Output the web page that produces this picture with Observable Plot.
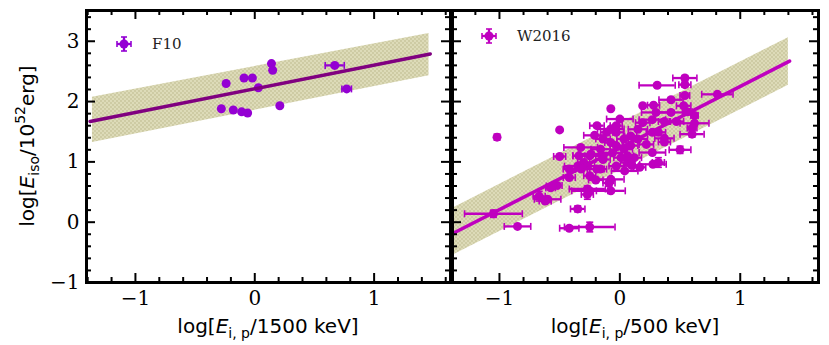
<!DOCTYPE html>
<html><head><meta charset="utf-8">
<script src="https://cdn.jsdelivr.net/npm/d3@7"></script>
<script src="https://cdn.jsdelivr.net/npm/@observablehq/plot@0.6"></script>
<style>
body{margin:0;background:#fff}
#wrap{position:relative;width:829px;height:345px;background:#fff}
#wrap svg{position:absolute;top:0}
</style>
</head><body><div id="wrap"></div>
<script>
// ---- Left panel (F10) ----
const f10X    = [-0.24,-0.28,-0.18,-0.11,-0.06,-0.09,-0.02,0.03,0.14,0.15,0.21,0.67,0.77];
const f10Y    = [2.30,1.88,1.86,1.83,1.81,2.39,2.39,2.23,2.63,2.52,1.93,2.60,2.21];
const f10Xerr = [0,0,0,0,0,0,0,0,0,0,0,0.08,0.04];
const f10Yerr = [0,0,0,0,0,0,0,0,0,0,0,0.02,0.02];
const f10FitX = [-1.38, 1.47];
const f10FitY = [1.67, 2.79];
const f10BandX  = [-1.36, 1.46];
const f10BandLo = [1.32, 2.43];
const f10BandHi = [2.07, 3.13];

// ---- Right panel (W2016) ----
const wX = [-1.02,-0.50,-1.05,-0.85,-0.42,-0.25,-0.35,-0.67,-0.60,-0.575,-0.52,-0.42,-0.50,-0.325,-0.27,-0.25,-0.27,-0.075,-0.19,-0.21,
  0.0,0.19,0.28,0.31,0.54,0.54,0.54,0.425,0.81,0.53,0.56,0.425,0.30,0.62,0.62,0.60,0.60,0.47,0.37,0.27,
  0.19,0.37,0.37,0.50,0.27,0.22,0.275,0.32,0.165,0.04,0.065,-0.075,-0.09,-0.075,-0.25,-0.19,-0.30,-0.35,-0.25,-0.14,
  -0.06,-0.03,0.035,0.09,0.15,0.09,0.035,-0.03,-0.075,-0.03,-0.11,-0.14,-0.075,-0.16,0.01,0.12,0.065,-0.16,-0.27,-0.32,
  -0.42,0.15,0.27,0.32,-0.03,0.10,-0.20,-0.24,-0.34,-0.56,-0.62];
const wY = [1.41,1.53,0.14,-0.07,-0.10,-0.08,0.22,0.43,0.38,0.57,0.61,0.74,1.09,1.24,0.55,0.52,0.46,1.88,1.60,1.44,
  1.71,1.93,1.94,2.27,2.39,2.28,2.10,2.03,2.12,1.93,1.83,1.82,1.82,1.77,1.64,1.56,1.46,1.67,1.67,1.70,
  1.65,1.39,1.33,1.20,1.155,1.29,0.96,0.99,0.91,0.85,0.99,0.71,0.65,0.52,0.77,0.88,0.99,0.93,1.10,1.04,
  1.15,1.27,1.21,1.27,1.38,1.43,1.38,1.49,1.545,1.60,1.49,1.38,1.32,1.21,1.07,1.07,1.10,0.88,0.93,0.88,
  0.88,1.54,1.49,1.49,0.93,0.94,0.70,1.13,1.10,0.60,0.35];
const wXerr = [0,0,0.24,0.11,0.08,0.21,0.06,0.05,0.11,0.04,0.04,0.05,0.05,0.14,0.15,0.15,0.05,0,0.06,0.09,
  0.11,0,0.05,0.15,0.10,0.05,0.04,0.10,0.13,0.06,0.04,0.11,0.12,0.03,0.12,0.04,0.10,0.06,0.05,0.11,
  0.06,0.08,0.05,0.09,0.11,0.06,0.11,0.05,0.05,0.11,0.06,0.11,0.05,0.12,0.05,0.06,0.05,0.11,0.14,0.06,
  0.08,0.05,0.07,0.06,0.08,0.05,0.06,0.06,0.11,0.05,0.05,0.06,0.05,0.08,0.06,0.06,0.05,0.05,0.06,0.05,
  0.05,0.08,0.05,0.06,0.06,0.06,0.06,0.10,0.05,0.05,0.05];
const wYerr = [0.05,0,0.06,0.03,0.03,0.08,0.05,0.08,0.03,0.03,0.03,0.03,0.03,0.03,0.05,0.03,0.08,0,0.03,0.03,
  0.03,0,0.03,0.03,0.04,0.04,0.03,0.03,0.03,0.03,0.05,0.03,0.03,0.03,0.03,0.03,0.05,0.03,0.03,0.03,
  0.03,0.03,0.03,0.06,0.03,0.03,0.03,0.08,0.03,0.03,0.03,0.03,0.05,0.03,0.03,0.03,0.03,0.03,0.03,0.03,
  0.03,0.03,0.03,0.03,0.03,0.03,0.03,0.03,0.03,0.03,0.03,0.03,0.03,0.03,0.03,0.03,0.03,0.03,0.03,0.03,
  0.03,0.03,0.03,0.03,0.03,0.03,0.03,0.03,0.03,0.03,0.03];
const wFitX = [-1.38, 1.41];
const wFitY = [-0.18, 2.67];
const wBandX  = [-1.38, 1.40];
const wBandLo = [-0.54, 2.27];
const wBandHi = [0.24, 3.06];

// ---- Axes ----
const xMajor = [-1, 0, 1];
const xMinor = [-1.4,-1.2,-0.8,-0.6,-0.4,-0.2,0.2,0.4,0.6,0.8,1.2,1.4,1.6];
const yMajor = [-1, 0, 1, 2, 3];
const yMinor = [-0.8,-0.6,-0.4,-0.2,0.2,0.4,0.6,0.8,1.2,1.4,1.6,1.8,2.2,2.4,2.6,2.8,3.2,3.4];

const leftXDomain = [-1.41, 1.64];
const rightXDomain = [-1.39, 1.65];
const yDomain = [-1, 3.51];

const fmt = d => (d < 0 ? "\u2212" + Math.abs(d) : String(d));

const sym = (f) => ({draw(ctx, size){ const l = Math.sqrt(size/Math.PI); f(ctx, l); }});
const capV = sym((c,l)=>{c.moveTo(0,-l);c.lineTo(0,l);});
const capH = sym((c,l)=>{c.moveTo(-l,0);c.lineTo(l,0);});

const H = 345, MT = 10, MB = 63;
const FH = H - MT - MB;
const ns = "http://www.w3.org/2000/svg";

function tickMarks(xdom, fw){
  const inX = v => v > xdom[0] && v < xdom[1];
  const base = {stroke:"black", strokeWidth:2};
  const m = [];
  for (const [vals, len] of [[xMajor.filter(inX), 9], [xMinor.filter(inX), 5]]) {
    m.push(Plot.tickX(vals, {...base, x:d=>d, insetTop: FH - len}));
    m.push(Plot.tickX(vals, {...base, x:d=>d, insetBottom: FH - len}));
  }
  for (const [vals, len] of [[yMajor, 9], [yMinor, 5]]) {
    m.push(Plot.tickY(vals, {...base, y:d=>d, insetRight: fw - len}));
    m.push(Plot.tickY(vals, {...base, y:d=>d, insetLeft: fw - len}));
  }
  return m;
}

function panel({X, Y, Xerr, Yerr, fitX, fitY, bandX, bandLo, bandHi, pointColor, lineColor, xdom, width, mL, mR, showY, pid}){
  const pts = X.map((x,i)=>({x, y:Y[i], xe:Xerr[i], ye:Yerr[i]}));
  const band = bandX.map((x,i)=>({x, lo:bandLo[i], hi:bandHi[i]}));
  const fit = fitX.map((x,i)=>({x, y:fitY[i]}));
  const ex = pts.filter(d=>d.xe>0), ey = pts.filter(d=>d.ye>0);
  const fw = width - mL - mR;
  const plot = Plot.plot({
    width, height: H, marginLeft: mL, marginRight: mR, marginTop: MT, marginBottom: MB,
    style: {fontFamily: "'DejaVu Serif', serif", fontSize: "20px", background: "white", overflow: "visible", color: "black"},
    x: {domain: xdom, label: null, axis: null},
    y: {domain: yDomain, label: null, axis: null},
    marks: [
      Plot.areaY(band, {x:"x", y1:"lo", y2:"hi", fill:`url(#${pid})`, stroke:"none"}),
      Plot.ruleY(ex, {y:"y", x1:d=>d.x-d.xe, x2:d=>d.x+d.xe, stroke:pointColor, strokeWidth:2.3}),
      Plot.ruleX(ey, {x:"x", y1:d=>d.y-d.ye, y2:d=>d.y+d.ye, stroke:pointColor, strokeWidth:2.3}),
      Plot.dot(ex, {x:d=>d.x-d.xe, y:"y", symbol:capV, r:3.5, stroke:pointColor, strokeWidth:1.6, fill:"none"}),
      Plot.dot(ex, {x:d=>d.x+d.xe, y:"y", symbol:capV, r:3.5, stroke:pointColor, strokeWidth:1.6, fill:"none"}),
      Plot.dot(ey, {x:"x", y:d=>d.y-d.ye, symbol:capH, r:3.5, stroke:pointColor, strokeWidth:1.6, fill:"none"}),
      Plot.dot(ey, {x:"x", y:d=>d.y+d.ye, symbol:capH, r:3.5, stroke:pointColor, strokeWidth:1.6, fill:"none"}),
      Plot.dot(pts, {x:"x", y:"y", r:4.5, fill:pointColor, stroke:"none"}),
      Plot.line(fit, {x:"x", y:"y", stroke:lineColor, strokeWidth:3.5}),
      Plot.axisX({ticks: xMajor, tickFormat: fmt, tickSize:0, tickPadding:8, fontSize:20, label:null}),
      showY ? Plot.axisY({ticks: yMajor, tickFormat: fmt, tickSize:0, tickPadding:7, fontSize:20, label:null}) : null,
      ...tickMarks(xdom, fw),
      Plot.frame({stroke:"black", strokeWidth:3})
    ]
  });
  const defs = document.createElementNS(ns, "defs");
  defs.innerHTML = `<pattern id="${pid}" width="4" height="4" patternUnits="userSpaceOnUse">
     <rect width="4" height="4" fill="#dddbb8"/>
     <circle cx="1" cy="1" r="0.9" fill="#c7c49a"/>
     <circle cx="3" cy="3" r="0.9" fill="#c7c49a"/></pattern>`;
  plot.insertBefore(defs, plot.firstChild);
  return plot;
}

function legend(svg, cx, cy, color, label){
  const g = d3.select(svg).append("g");
  const ln = (x1,y1,x2,y2,w) => g.append("line").attr("x1",x1).attr("y1",y1).attr("x2",x2).attr("y2",y2).attr("stroke",color).attr("stroke-width",w);
  ln(cx-7,cy,cx+7,cy,2.3); ln(cx,cy-7,cx,cy+7,2.3);
  ln(cx-7,cy-3,cx-7,cy+3,1.6); ln(cx+7,cy-3,cx+7,cy+3,1.6);
  ln(cx-3,cy-7,cx+3,cy-7,1.6); ln(cx-3,cy+7,cx+3,cy+7,1.6);
  g.append("circle").attr("cx",cx).attr("cy",cy).attr("r",4.5).attr("fill",color);
  g.append("text").attr("x",cx+28).attr("y",cy+5).attr("text-anchor","start")
    .attr("font-family","'DejaVu Serif', serif").attr("font-size",15).attr("fill","#222").text(label);
}

function xlabel(svg, cx, denom){
  const t = d3.select(svg).append("text").attr("x",cx).attr("y",333).attr("text-anchor","middle")
    .attr("font-family","'DejaVu Sans', sans-serif").attr("font-size",20).attr("fill","black");
  t.append("tspan").text("log[");
  t.append("tspan").attr("font-style","italic").text("E");
  t.append("tspan").attr("font-size",14).attr("dy",5).text("i, p");
  t.append("tspan").attr("dy",-5).text("/" + denom + " keV]");
}

const wrap = document.getElementById("wrap");
const left = panel({X:f10X, Y:f10Y, Xerr:f10Xerr, Yerr:f10Yerr, fitX:f10FitX, fitY:f10FitY,
  bandX:f10BandX, bandLo:f10BandLo, bandHi:f10BandHi, pointColor:"#9400d3", lineColor:"#800080",
  xdom:leftXDomain, width:452, mL:86, mR:2, showY:true, pid:"dotsL"});
const right = panel({X:wX, Y:wY, Xerr:wXerr, Yerr:wYerr, fitX:wFitX, fitY:wFitY,
  bandX:wBandX, bandLo:wBandLo, bandHi:wBandHi, pointColor:"#bf00bf", lineColor:"#bf00bf",
  xdom:rightXDomain, width:378, mL:1, mR:11, showY:false, pid:"dotsR"});
left.style.left = "0px";
right.style.left = "451px";
wrap.appendChild(left);
wrap.appendChild(right);

legend(left, 124, 44, "#9400d3", "F10");
legend(right, 38, 36, "#bf00bf", "W2016");
xlabel(left, 268, "1500");
xlabel(right, 184, "500");

const yl = d3.select(left).append("text").attr("transform","translate(34,146) rotate(-90)").attr("text-anchor","middle")
  .attr("font-family","'DejaVu Sans', sans-serif").attr("font-size",20).attr("fill","black");
yl.append("tspan").text("log[");
yl.append("tspan").attr("font-style","italic").text("E");
yl.append("tspan").attr("font-size",14).attr("dy",5).text("iso");
yl.append("tspan").attr("dy",-5).text("/10");
yl.append("tspan").attr("font-size",14).attr("dy",-9).text("52");
yl.append("tspan").attr("dy",9).text("erg]");
</script>
</body></html>
